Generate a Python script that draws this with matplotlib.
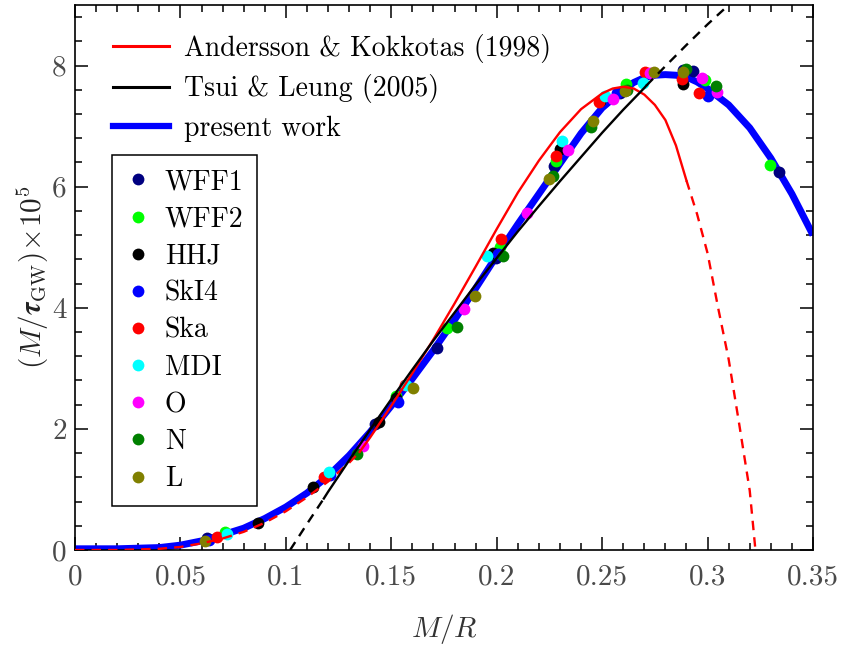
import matplotlib
matplotlib.use("Agg")
import matplotlib.pyplot as plt
from matplotlib.lines import Line2D
from matplotlib.ticker import MultipleLocator, FixedLocator, FixedFormatter

plt.rcParams['font.family'] = 'serif'
plt.rcParams['font.serif'] = ['cmr10', 'DejaVu Serif']
plt.rcParams['mathtext.fontset'] = 'cm'
plt.rcParams['axes.formatter.use_mathtext'] = True
plt.rcParams['axes.unicode_minus'] = False

# ---------------- data ----------------
# present work (fit)
fit_x = [0, 0.02, 0.04, 0.05, 0.06, 0.07, 0.08, 0.09, 0.10, 0.11, 0.12, 0.13, 0.14, 0.15,
         0.16, 0.17, 0.18, 0.19, 0.20, 0.21, 0.22, 0.23, 0.24, 0.25, 0.26, 0.265, 0.27,
         0.275, 0.28, 0.285, 0.29, 0.295, 0.30, 0.31, 0.32, 0.33, 0.34, 0.35]
fit_y = [0.02, 0.02, 0.04, 0.08, 0.15, 0.25, 0.36, 0.52, 0.71, 0.94, 1.22, 1.56, 1.95, 2.38,
         2.83, 3.30, 3.80, 4.32, 4.86, 5.38, 5.88, 6.38, 6.88, 7.30, 7.60, 7.72, 7.80,
         7.84, 7.85, 7.84, 7.81, 7.73, 7.62, 7.35, 6.97, 6.47, 5.88, 5.20]

# Andersson & Kokkotas (1998)
ak_x = [0.00, 0.02, 0.04, 0.05, 0.06, 0.07, 0.08, 0.09, 0.10, 0.11, 0.12, 0.13, 0.135, 0.14,
        0.15, 0.16, 0.17, 0.18, 0.19, 0.20, 0.21, 0.22, 0.23, 0.24, 0.25, 0.255, 0.26, 0.265,
        0.27, 0.275, 0.28, 0.285, 0.29, 0.295, 0.30, 0.305, 0.31, 0.315, 0.32, 0.3227]
ak_y = [0.0, 0.0, 0.02, 0.05, 0.11, 0.19, 0.30, 0.45, 0.64, 0.87, 1.13, 1.44, 1.62, 1.86,
        2.38, 2.92, 3.48, 4.07, 4.68, 5.30, 5.90, 6.43, 6.90, 7.28, 7.54, 7.62, 7.65, 7.62,
        7.52, 7.35, 7.10, 6.68, 6.10, 5.55, 4.90, 4.00, 3.15, 2.08, 0.98, 0.0]
ak_solid = (0.135, 0.29)

# Tsui & Leung (2005)
tl_x = [0.102, 0.11, 0.118, 0.12, 0.13, 0.14, 0.15, 0.16, 0.17, 0.18, 0.19, 0.20, 0.21, 0.22,
        0.23, 0.24, 0.25, 0.26, 0.27, 0.271, 0.28, 0.29, 0.30, 0.31]
tl_y = [0.0, 0.43, 0.85, 0.96, 1.48, 1.99, 2.49, 2.98, 3.46, 3.92, 4.38, 4.82, 5.26, 5.68,
        6.09, 6.49, 6.89, 7.27, 7.63, 7.67, 7.99, 8.34, 8.68, 9.00]
tl_solid = (0.118, 0.271)

# EOS data points
eos_names = ['WFF1', 'WFF2', 'HHJ', 'SkI4', 'Ska', 'MDI', 'O', 'N', 'L']
eos_colors = ['#000080', '#00ff00', '#000000', '#0000ff', '#ff0000', '#00ffff',
              '#ff00ff', '#008000', '#808000']
wff1_x = [0.0624, 0.1423, 0.1715, 0.1997, 0.2272, 0.2585, 0.2885, 0.2932, 0.334]
wff1_y = [0.19, 2.08, 3.33, 4.82, 6.34, 7.55, 7.93, 7.91, 6.24]
wff2_x = [0.0713, 0.152, 0.1766, 0.2016, 0.2281, 0.2613, 0.2988, 0.3296]
wff2_y = [0.29, 2.55, 3.66, 5.01, 6.42, 7.69, 7.76, 6.35]
hhj_x = [0.0866, 0.113, 0.144, 0.1522, 0.1981, 0.230, 0.249, 0.2885]
hhj_y = [0.45, 1.04, 2.12, 2.51, 4.90, 6.62, 7.42, 7.70]
ski4_x = [0.0635, 0.121, 0.153, 0.2005, 0.257, 0.300]
ski4_y = [0.17, 1.24, 2.45, 4.88, 7.55, 7.49]
ska_x = [0.0675, 0.1181, 0.1565, 0.202, 0.2281, 0.2487, 0.2703, 0.2877, 0.2961]
ska_y = [0.22, 1.20, 2.73, 5.13, 6.51, 7.39, 7.89, 7.77, 7.55]
mdi_x = [0.0722, 0.1206, 0.157, 0.1952, 0.2308, 0.2514, 0.2695]
mdi_y = [0.26, 1.28, 2.72, 4.85, 6.76, 7.49, 7.71]
o_x = [0.1367, 0.1845, 0.2142, 0.234, 0.255, 0.2727, 0.2974, 0.3046]
o_y = [1.72, 3.98, 5.57, 6.60, 7.44, 7.87, 7.80, 7.57]
n_x = [0.1336, 0.181, 0.2028, 0.2268, 0.2446, 0.2616, 0.2898, 0.304]
n_y = [1.59, 3.69, 4.85, 6.17, 6.98, 7.60, 7.95, 7.66]
l_x = [0.0617, 0.1601, 0.1897, 0.2249, 0.2458, 0.2608, 0.2746, 0.2885]
l_y = [0.15, 2.67, 4.19, 6.12, 7.09, 7.58, 7.89, 7.89]
eos_x = [wff1_x, wff2_x, hhj_x, ski4_x, ska_x, mdi_x, o_x, n_x, l_x]
eos_y = [wff1_y, wff2_y, hhj_y, ski4_y, ska_y, mdi_y, o_y, n_y, l_y]

xtick_vals = [0, 0.05, 0.1, 0.15, 0.2, 0.25, 0.3, 0.35]
xtick_labels = ['0', '0.05', '0.1', '0.15', '0.2', '0.25', '0.3', '0.35']
ytick_vals = [0, 2, 4, 6, 8]
ytick_labels = ['0', '2', '4', '6', '8']

line_labels = ['Andersson & Kokkotas (1998)', 'Tsui & Leung (2005)', 'present work']


def split(xs, ys, lo, hi):
    """split a curve into (dashed-before, solid, dashed-after) pieces by x-range"""
    a = [(x, y) for x, y in zip(xs, ys) if x <= lo]
    b = [(x, y) for x, y in zip(xs, ys) if lo <= x <= hi]
    c = [(x, y) for x, y in zip(xs, ys) if x >= hi]
    return [list(zip(*p)) if p else ([], []) for p in (a, b, c)]


# ---------------- figure ----------------
fig = plt.figure(figsize=(8.41, 6.46), dpi=100)
ax = fig.add_axes([0.0892, 0.1486, 0.8775, 0.8437])

blue_lw = 5.0
ax.plot(fit_x, fit_y, color='#0000ff', lw=blue_lw, solid_capstyle='butt',
        solid_joinstyle='round', zorder=2)

for xs, ys, c, name in zip(eos_x, eos_y, eos_colors, eos_names):
    ax.plot(xs, ys, 'o', color=c, ms=8.5, mec='none', zorder=3)

dash = (0, (4, 3))
red_lw = 1.7
pa, pb, pc = split(ak_x, ak_y, *ak_solid)
ax.plot(pa[0], pa[1], color='#ff0000', lw=red_lw, ls=dash, zorder=4)
ax.plot(pb[0], pb[1], color='#ff0000', lw=red_lw, zorder=4)
ax.plot(pc[0], pc[1], color='#ff0000', lw=red_lw, ls=dash, zorder=4)

blk_lw = 1.7
pa, pb, pc = split(tl_x, tl_y, *tl_solid)
ax.plot(pa[0], pa[1], color='k', lw=blk_lw, ls=dash, zorder=4)
ax.plot(pb[0], pb[1], color='k', lw=blk_lw, zorder=4)
ax.plot(pc[0], pc[1], color='k', lw=blk_lw, ls=dash, zorder=4)

ax.set_xlim(0, 0.35)
ax.set_ylim(0, 9)

ax.xaxis.set_major_locator(FixedLocator(xtick_vals))
ax.xaxis.set_major_formatter(FixedFormatter(xtick_labels))
ax.yaxis.set_major_locator(FixedLocator(ytick_vals))
ax.yaxis.set_major_formatter(FixedFormatter(ytick_labels))
ax.xaxis.set_minor_locator(MultipleLocator(0.01))
ax.yaxis.set_minor_locator(MultipleLocator(0.4))
ax.tick_params(which='both', direction='in', top=True, right=True, width=1.1,
               colors='k', labelcolor='#4a4a4a', labelsize=21)
ax.tick_params(which='major', length=9.5)
ax.tick_params(which='minor', length=5)
ax.tick_params(axis='x', which='major', pad=10)
ax.tick_params(axis='y', which='major', pad=6)
for s in ax.spines.values():
    s.set_linewidth(1.2)

ax.set_xlabel(r'$M/R$', fontsize=21, color='#333333', labelpad=16)
ax.set_ylabel(r'$(M/\boldsymbol{\tau}_{\rm GW})\!\times\!10^5$', fontsize=21,
              color='#222222', labelpad=1)

# legend for lines
lh = [Line2D([], [], color='#ff0000', lw=2.2),
      Line2D([], [], color='k', lw=2.2),
      Line2D([], [], color='#0000ff', lw=4.5)]
leg1 = ax.legend(lh, line_labels, loc='upper left', bbox_to_anchor=(0.037, 0.968),
                 frameon=False, fontsize=20, handlelength=2.0, handletextpad=0.55,
                 labelspacing=0.43, borderaxespad=0)
ax.add_artist(leg1)

# legend for EOS
ph = [Line2D([], [], ls='none', marker='o', ms=8.5, color=c, mec='none') for c in eos_colors]
leg2 = ax.legend(ph, eos_names, loc='upper left', bbox_to_anchor=(0.050, 0.725),
                 frameon=True, fancybox=False, edgecolor='k', fontsize=20,
                 handlelength=0.9, handletextpad=0.5, labelspacing=0.39,
                 borderaxespad=0, borderpad=0.5, framealpha=1)
leg2.get_frame().set_linewidth(1.1)

fig.savefig('out.png', dpi=100)
